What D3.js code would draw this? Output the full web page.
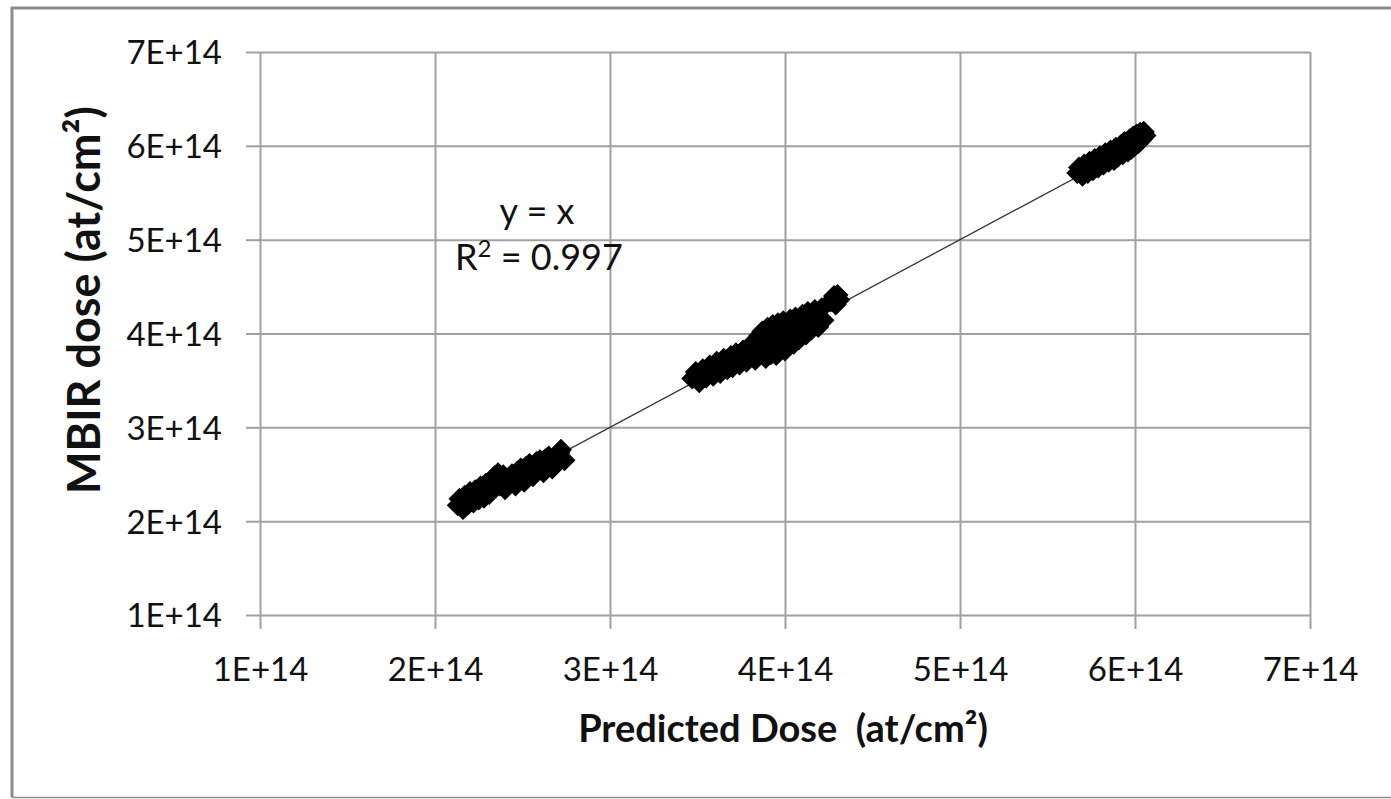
<!DOCTYPE html>
<html>
<head>
<meta charset="utf-8">
<script src="https://cdn.jsdelivr.net/npm/d3@7"></script>
<style>
	body { margin: 0; background: white; }
	text { font-family: Lato, "Open Sans", sans-serif; fill: #111; }
	.grid line { stroke: #a0a0a0; stroke-width: 2; }
</style>
</head>
<body>
<svg id="chart" width="1391" height="799"></svg>
<script>
var UNIT = 1e14;
var tickValues = [1, 2, 3, 4, 5, 6, 7];

// predicted dose (x), in 1E+14 at/cm2
var predictedDose = [
	2.13, 2.14, 2.16, 2.17, 2.19, 2.20, 2.22, 2.23, 2.25, 2.26, 2.28, 2.29, 2.31, 2.33, 2.34, 2.36, 2.37, 2.39, 2.40,
	2.42, 2.44, 2.46, 2.47, 2.49, 2.51, 2.52, 2.54, 2.56, 2.58, 2.60, 2.62, 2.63, 2.65, 2.67, 2.69, 2.71, 2.72, 2.74,
	3.47, 3.49, 3.51, 3.53, 3.55, 3.57, 3.59, 3.61, 3.63, 3.65, 3.67, 3.69, 3.70, 3.72, 3.74, 3.76,
	3.78, 3.80, 3.82, 3.83, 3.85, 3.86, 3.87, 3.88, 3.89, 3.90, 3.91, 3.92, 3.93, 3.94, 3.95, 3.96, 3.97, 3.98, 3.99,
	4.00, 4.01, 4.02, 4.03, 4.04, 4.05, 4.06, 4.07, 4.08, 4.10, 4.11, 4.12, 4.13, 4.14, 4.15, 4.17, 4.18, 4.19, 4.21, 4.22,
	4.26, 4.28, 4.29, 4.30, 4.31,
	5.67, 5.68, 5.70, 5.71, 5.73, 5.74, 5.76, 5.77, 5.79, 5.80, 5.82, 5.83, 5.85, 5.86, 5.88, 5.89, 5.90, 5.92, 5.93,
	5.94, 5.96, 5.97, 5.98, 5.99, 6.00, 6.01, 6.02, 6.03, 6.04, 6.05, 6.06
];
// MBIR dose (y), in 1E+14 at/cm2
var mbirDose = [
	2.17, 2.24, 2.13, 2.27, 2.18, 2.31, 2.20, 2.33, 2.23, 2.37, 2.25, 2.40, 2.29, 2.43, 2.48, 2.51, 2.38, 2.49, 2.34,
	2.46, 2.50, 2.38, 2.53, 2.56, 2.42, 2.58, 2.61, 2.48, 2.63, 2.65, 2.52, 2.66, 2.69, 2.56, 2.68, 2.73, 2.76, 2.65,
	3.52, 3.59, 3.48, 3.62, 3.53, 3.66, 3.55, 3.70, 3.58, 3.73, 3.62, 3.76, 3.64, 3.79, 3.67, 3.82,
	3.70, 3.84, 3.91, 3.72, 3.97, 3.78, 4.02, 3.85, 3.74, 4.06, 3.92, 3.78, 4.09, 3.96, 3.77, 4.11, 3.85, 4.00, 4.13,
	3.82, 4.05, 3.91, 4.15, 4.00, 3.89, 4.17, 4.06, 3.94, 4.20, 4.09, 3.99, 4.23, 4.12, 4.04, 4.25, 4.15, 4.07, 4.27, 4.14,
	4.34, 4.40, 4.31, 4.41, 4.36,
	5.71, 5.77, 5.68, 5.80, 5.71, 5.83, 5.74, 5.86, 5.77, 5.89, 5.80, 5.92, 5.83, 5.95, 5.85, 5.98, 5.88, 6.01, 5.91,
	6.04, 5.94, 6.07, 5.97, 6.10, 6.00, 6.12, 6.03, 6.14, 6.07, 6.15, 6.11
];

var fitLabel = "y = x";
var r2Value = "0.997";

window.onload = init;

function init() {
	var svg = d3.select("#chart");
	var margin = { left: 260, right: 81, top: 52, bottom: 184 };
	var w = 1391, h = 799;

	// outer chart frame
	svg.append("path")
		.attr("d", "M12,797.5 L12,8 L1400,8")
		.attr("fill", "none")
		.attr("stroke", "#8c8c8c")
		.attr("stroke-width", 3);
	svg.append("line")
		.attr("x1", 12).attr("x2", 1400)
		.attr("y1", 797.5).attr("y2", 797.5)
		.attr("stroke", "#8c8c8c")
		.attr("stroke-width", 1.5);

	var x = d3.scaleLinear()
		.domain([1 * UNIT, 7 * UNIT])
		.range([margin.left, w - margin.right]);
	var y = d3.scaleLinear()
		.domain([1 * UNIT, 7 * UNIT])
		.range([h - margin.bottom, margin.top]);
	var fmt = function(d) { return Math.round(d / UNIT) + "E+14"; };

	var xAxis = d3.axisBottom(x)
		.tickValues(tickValues.map(function(d) { return d * UNIT; }))
		.tickSize(-(y.range()[0] - y.range()[1]))
		.tickFormat(fmt);
	var yAxis = d3.axisLeft(y)
		.tickValues(tickValues.map(function(d) { return d * UNIT; }))
		.tickSize(-(x.range()[1] - x.range()[0]))
		.tickFormat(fmt);

	var gx = svg.append("g").attr("class", "grid")
		.attr("transform", "translate(0," + y.range()[0] + ")")
		.call(xAxis);
	var gy = svg.append("g").attr("class", "grid")
		.attr("transform", "translate(" + x.range()[0] + ",0)")
		.call(yAxis);
	gx.select(".domain").remove();
	gy.select(".domain").remove();

	// small outer tick marks
	gx.selectAll(".tick").append("line")
		.attr("y1", 0).attr("y2", 14);
	gy.selectAll(".tick").append("line")
		.attr("x1", 0).attr("x2", -14);

	gx.selectAll(".tick text")
		.attr("y", 0).attr("dy", 0)
		.attr("transform", "translate(0,66)")
		.style("font-size", "33px")
		.attr("fill", "#111");
	gy.selectAll(".tick text")
		.attr("x", -38).attr("dy", "0.36em")
		.style("font-size", "33px")
		.attr("fill", "#111");

	// y = x trend line over the data range
	var xr = d3.extent(predictedDose);
	svg.append("line")
		.attr("x1", x(xr[0] * UNIT)).attr("y1", y(xr[0] * UNIT))
		.attr("x2", x(xr[1] * UNIT)).attr("y2", y(xr[1] * UNIT))
		.attr("stroke", "#333")
		.attr("stroke-width", 1.3);

	var s = 11;
	svg.append("g").selectAll("path")
		.data(predictedDose)
		.enter().append("path")
		.attr("d", "M0," + (-s) + "L" + s + ",0L0," + s + "L" + (-s) + ",0Z")
		.attr("transform", function(d, i) {
			return "translate(" + x(d * UNIT) + "," + y(mbirDose[i] * UNIT) + ")";
		})
		.attr("fill", "#000");

	// trendline label
	svg.append("text")
		.attr("x", 537).attr("y", 224)
		.attr("text-anchor", "middle")
		.style("font-size", "36px")
		.text(fitLabel);
	var r2 = svg.append("text")
		.attr("x", 455).attr("y", 270)
		.style("font-size", "36px");
	r2.append("tspan").text("R");
	r2.append("tspan").attr("dy", -13).style("font-size", "24px").text("2");
	r2.append("tspan").attr("dy", 13).text(" = " + r2Value);

	// axis titles
	svg.append("text")
		.attr("x", 783).attr("y", 742)
		.attr("text-anchor", "middle")
		.style("font-size", "38px")
		.style("font-weight", "bold")
		.attr("xml:space", "preserve")
		.text("Predicted Dose  (at/cm²)");
	svg.append("text")
		.attr("transform", "translate(100,300) rotate(-90)")
		.attr("text-anchor", "middle")
		.style("font-size", "45px")
		.style("font-weight", "bold")
		.text("MBIR dose (at/cm²)");
}
</script>
</body>
</html>
